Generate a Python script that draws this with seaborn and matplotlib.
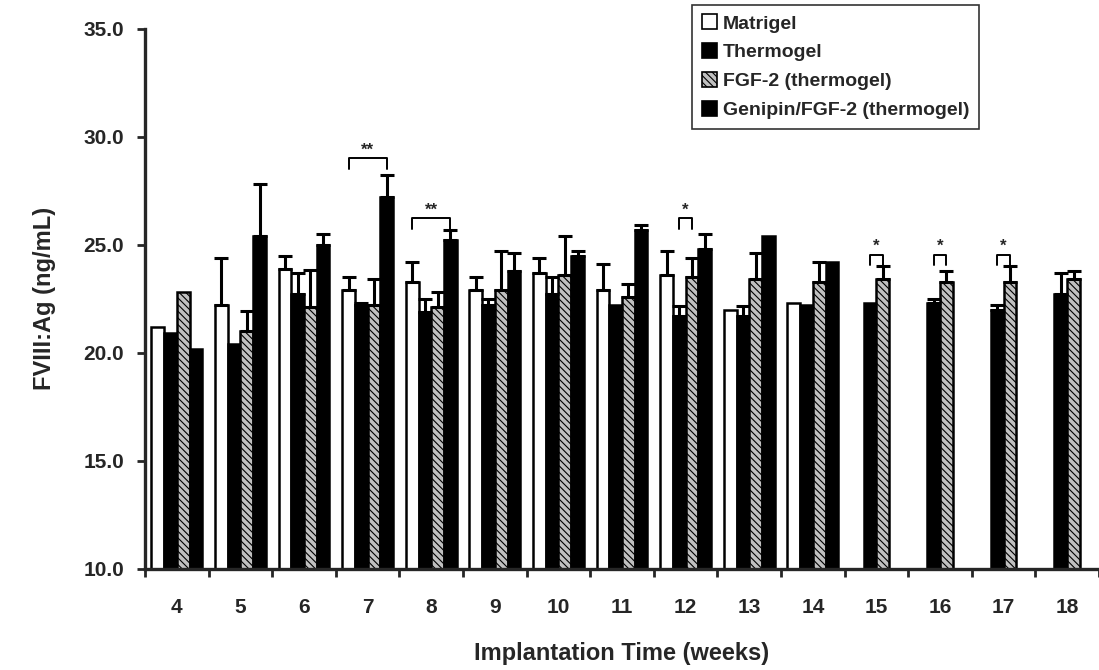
import numpy as np
import pandas as pd
import matplotlib
matplotlib.use("Agg")
import matplotlib.pyplot as plt
import seaborn as sns
from matplotlib.patches import Patch

weeks = [4, 5, 6, 7, 8, 9, 10, 11, 12, 13, 14, 15, 16, 17, 18]
groups = ["Matrigel", "Thermogel", "FGF-2 (thermogel)", "Genipin/FGF-2 (thermogel)"]

matrigel = [21.2, 22.2, 23.9, 22.9, 23.3, 22.9, 23.7, 22.9, 23.6, 22.0, 22.3, np.nan, np.nan, np.nan, np.nan]
thermogel = [20.9, 20.4, 22.7, 22.2, 21.9, 22.2, 22.7, 22.2, 21.7, 21.7, 22.2, 22.3, 22.3, 22.0, 22.7]
fgf2 = [22.8, 21.0, 22.1, 22.2, 22.1, 22.9, 23.6, 22.6, 23.5, 23.4, 23.3, 23.4, 23.3, 23.3, 23.4]
genipin = [20.2, 25.4, 25.0, 27.2, 25.2, 23.8, 24.5, 25.7, 24.8, 25.4, 24.2, np.nan, np.nan, np.nan, np.nan]

# upper error (SD) only
matrigel_err = [0.0, 2.2, 0.6, 0.6, 0.9, 0.6, 0.7, 1.2, 1.1, 0.0, 0.0, np.nan, np.nan, np.nan, np.nan]
thermogel_err = [0.0, 0.0, 1.0, 0.1, 0.6, 0.3, 0.8, 0.0, 0.45, 0.45, 0.0, 0.0, 0.2, 0.2, 1.0]
fgf2_err = [0.0, 0.95, 1.75, 1.2, 0.7, 1.8, 1.8, 0.6, 0.9, 1.2, 0.9, 0.6, 0.5, 0.7, 0.4]
genipin_err = [0.0, 2.4, 0.5, 1.05, 0.5, 0.8, 0.2, 0.2, 0.7, 0.0, 0.0, np.nan, np.nan, np.nan, np.nan]

# significance brackets: week, first group, second group, bracket height, label
sig_weeks = [7, 8, 12, 15, 16, 17]
sig_a = [0, 0, 1, 1, 1, 1]
sig_b = [3, 3, 2, 2, 2, 2]
sig_y = [29.0, 26.25, 26.25, 24.55, 24.55, 24.55]
sig_text = ["**", "**", "*", "*", "*", "*"]

values = [matrigel, thermogel, fgf2, genipin]
errors = [matrigel_err, thermogel_err, fgf2_err, genipin_err]

rows = []
for g, vals in zip(groups, values):
    for w, v in zip(weeks, vals):
        rows.append({"week": str(w), "group": g, "value": v})
df = pd.DataFrame(rows)

sns.set_style("ticks")
plt.rcParams['font.family'] = ['Liberation Sans', 'DejaVu Sans']
plt.rcParams['font.weight'] = 'bold'
plt.rcParams['hatch.linewidth'] = 0.8

fig = plt.figure(figsize=(10.99, 6.70), dpi=100)
ax = fig.add_axes([0.132, 0.151, 0.868, 0.806])

colors = ["white", "black", "#c0c0c0", "black"]
sns.barplot(data=df, x="week", y="value", hue="group", order=[str(w) for w in weeks],
            hue_order=groups, palette=colors, edgecolor="black", linewidth=1.8,
            errorbar=None, width=0.8, saturation=1, ax=ax, legend=False)

# hatch the FGF-2 bars, add upper error bars
bar_x = {}
bar_conts = list(ax.containers)
for j, cont in enumerate(bar_conts):
    for bar in cont:
        h = bar.get_height()
        if np.isnan(h):
            continue
        xc = bar.get_x() + bar.get_width() / 2
        i = int(round(xc))
        bar_x[(i, j)] = xc
        if j == 2:
            bar.set_hatch("\\\\\\\\\\")
        e = errors[j][i]
        if e > 0:
            ax.errorbar(xc, h, yerr=[[0], [e]], fmt="none", ecolor="black",
                        elinewidth=2.2, capsize=5, capthick=2.2, zorder=3)

# significance brackets
for w, a, b, y, t in zip(sig_weeks, sig_a, sig_b, sig_y, sig_text):
    i = weeks.index(w)
    x1, x2 = bar_x[(i, a)], bar_x[(i, b)]
    ax.plot([x1, x1, x2, x2], [y - 0.5, y, y, y - 0.5], color="black", lw=1.4)
    ax.text((x1 + x2) / 2, y + 0.02, t, ha="center", va="bottom", fontsize=12, fontweight="bold")

ax.set_ylim(10, 35)
ax.set_xlim(-0.5, len(weeks) - 0.55)
ax.set_yticks([10, 15, 20, 25, 30, 35])
ax.set_yticklabels([f"{v:.1f}" for v in [10, 15, 20, 25, 30, 35]], fontsize=15, fontweight="bold")
ax.set_xticks(range(len(weeks)))
ax.set_xticklabels([str(w) for w in weeks], fontsize=15, fontweight="bold")
ax.set_xticks(np.arange(-0.5, len(weeks), 1), minor=True)
ax.tick_params(axis="x", which="major", length=0, pad=21)
ax.tick_params(axis="x", which="minor", length=6, width=2, direction="out")
ax.tick_params(axis="y", length=6, width=2, direction="out", pad=9)

for s in ["top", "right"]:
    ax.spines[s].set_visible(False)
for s in ["left", "bottom"]:
    ax.spines[s].set_linewidth(2.4)

ax.set_xlabel("Implantation Time (weeks)", fontsize=17, fontweight="bold", labelpad=18)
ax.set_ylabel("FVIII:Ag (ng/mL)", fontsize=17, fontweight="bold", labelpad=20)

handles = [Patch(facecolor=c, edgecolor="black", linewidth=1.2, hatch=("\\\\\\\\\\" if k == 2 else None))
           for k, c in enumerate(colors)]
leg = ax.legend(handles, groups, loc="upper right", bbox_to_anchor=(0.891, 0.993),
                bbox_transform=fig.transFigure, fontsize=14, frameon=True, fancybox=False,
                edgecolor="black", handlelength=0.8, handleheight=0.8, handletextpad=0.3,
                labelspacing=0.55, borderpad=0.5, borderaxespad=0)
leg.get_frame().set_linewidth(1.2)
for txt in leg.get_texts():
    txt.set_fontweight("bold")

plt.savefig("out.png", dpi=100)
